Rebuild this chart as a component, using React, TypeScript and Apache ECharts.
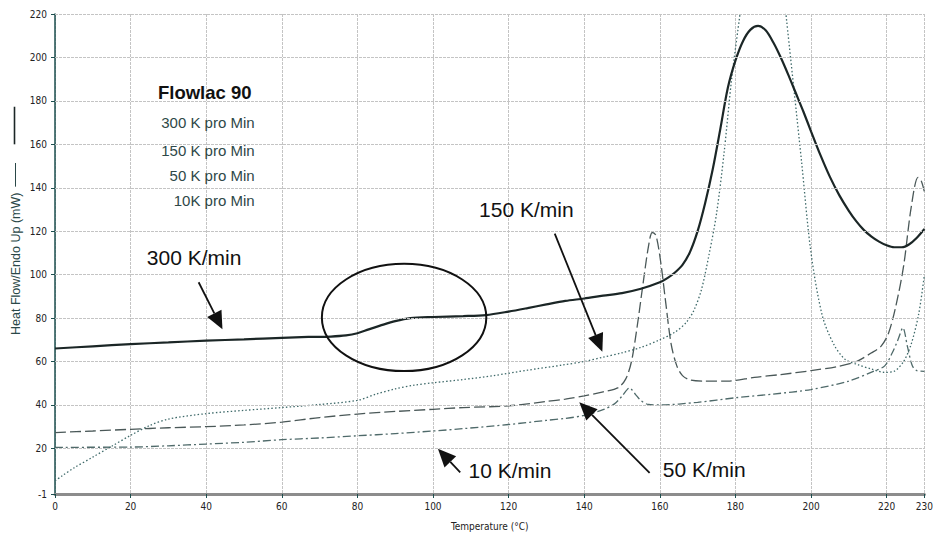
import React, { useEffect, useRef } from "react";
import * as echarts from "echarts";

// ---- axis ticks ----
const X_MIN = 0;
const X_MAX = 230;
const X_INTERVAL = 20;
const Y_MIN = -1;
const Y_MAX = 220;
const Y_LABELS = [-1, 20, 40, 60, 80, 100, 120, 140, 160, 180, 200, 220];
const GRID_Y = [20, 40, 60, 80, 100, 120, 140, 160, 180, 200, 220];

// ---- 300 K/min (solid) ----
const T300 = [0, 10, 20, 30, 40, 50, 60, 67, 73, 77, 80, 83, 86, 90, 94, 100, 108, 114, 120, 125, 130, 135, 140, 145, 150, 155, 160, 162, 164, 166, 168, 170, 172, 174, 176, 178, 180, 182, 184, 186, 188, 190, 192, 194, 196, 198, 200, 202.5, 205, 207.5, 210, 212, 214, 216, 218, 220, 222, 224, 226, 228, 230];
const V300 = [66, 67, 68, 68.8, 69.6, 70.2, 70.9, 71.3, 71.5, 72, 73, 74.8, 76.5, 78.6, 80, 80.5, 80.9, 81.4, 83, 84.6, 86.3, 87.9, 89, 90.3, 91.5, 93.5, 96.5, 98.4, 101, 104.5, 110.5, 120, 133, 148.5, 167, 186, 198.5, 207.5, 212.8, 214.5, 212.5, 207, 200, 192, 183.5, 175, 166, 155, 145, 136.5, 129.4, 124.5, 120.5, 117.5, 115.2, 113.5, 112.6, 112.6, 114, 117, 121];

// ---- 150 K/min (dotted) ----
const T150 = [0, 2, 5, 10, 15, 20, 25, 30, 40, 50, 60, 70, 80, 85, 90, 95, 100, 108, 116, 125, 134, 140, 145, 150, 155, 160, 164, 167, 169, 171, 173, 175, 177, 179, 181.3, 187, 193.3, 195.5, 197.5, 200, 203, 206, 209, 212.5, 216, 219.5, 222, 224.5, 226.5, 228.5, 230];
const V150 = [5, 7.5, 11, 16, 21, 26, 30.5, 33.5, 36, 37.5, 38.8, 40.2, 42.1, 45, 47.4, 49.1, 50.2, 51.7, 53.5, 56, 58.3, 60, 62, 64, 66.5, 70, 73.5, 78, 83.5, 93, 109, 128, 156, 190, 221, null, 221, 185, 152, 110, 81, 68, 61, 58.5, 56.5, 55, 55.5, 60, 68, 82, 100];

// ---- 50 K/min (long dashes) ----
const T50 = [0, 10, 20, 30, 40, 50, 60, 70, 80, 90, 100, 108, 120, 130, 135, 140, 145, 149, 151, 152.5, 154, 155.5, 157, 158, 159, 160.3, 161.5, 163, 164.5, 166, 168, 172, 178, 185, 192, 200, 207, 212, 216, 218.5, 220.5, 222.5, 224.5, 226.5, 228.3, 229.2, 230];
const V50 = [27.3, 28, 28.8, 29.5, 30, 30.8, 32.1, 34.2, 35.8, 37, 38, 38.8, 39.6, 41.6, 42.7, 44.2, 46, 48, 52, 60, 76, 95, 113, 119.4, 118, 105, 88, 68, 58, 53.5, 51.5, 51, 51, 52.7, 54, 55.8, 57.7, 60, 64, 67, 73, 86, 104, 131, 144.8, 143, 138];

// ---- 10 K/min (dash-dot) ----
const T10 = [0, 20, 30, 40, 50, 60, 70, 80, 90, 100, 108, 120, 130, 135, 140, 145, 148, 150, 152, 153.5, 155, 157, 160, 170, 180, 190, 200, 210, 216.5, 219.5, 221.5, 223, 224.3, 225.5, 226.8, 228, 230];
const V10 = [20.5, 20.6, 21.2, 22, 22.8, 24, 24.8, 25.8, 26.8, 28, 29.1, 31, 32.9, 33.8, 35.2, 37.8, 40.5, 44, 47.8, 45, 42, 40.2, 40, 41.2, 43.3, 45, 47.1, 51, 55.5, 58, 64, 70, 75.5, 67, 58, 55.8, 55.5];

// ---- texts ----
const X_NAME = "Temperature (°C)";
const Y_NAME = "Heat Flow/Endo Up (mW)";
const LEGEND_TITLE = "Flowlac 90";
const LEGEND_LINES = ["300 K pro Min", "150 K pro Min", "50 K pro Min", "10K pro Min"];
const LEGEND_Y = [170.2, 157.3, 145.8, 134];
const LEGEND_TITLE_Y = 183.8;
const LEGEND_RIGHT_X = 52.8;

// annotation anchors in data coordinates
const NOTE_TEXTS = ["300 K/min", "150 K/min", "10 K/min", "50 K/min"];
const NOTE_POS = [
  [24.3, 108],
  [112.2, 130],
  [109.4, 9.8],
  [160.8, 10.2],
];
const ARROW_FROM = [
  [38, 96.5],
  [132.2, 118.9],
  [107.2, 9],
  [157.3, 8.7],
];
const ARROW_TO = [
  [44.3, 74.8],
  [144.8, 64.5],
  [101.3, 19.8],
  [138.7, 41.3],
];
const ELLIPSE_C = [92.35, 80.3];
const ELLIPSE_R = [21.75, 24.7];
const YNAME_CENTER = 105;
const YNAME_DASH = [140.5, 151.4];
const YNAME_LINE = [160, 177.3];

const pairs = (xs: number[], ys: (number | null)[]) => xs.map((x, i) => [x, ys[i]]);

const TICK_FONT = "'Liberation Sans Narrow', 'Arial Narrow', 'DejaVu Sans Condensed', Arial, sans-serif";
const FONT = "'Liberation Sans', Arial, Helvetica, sans-serif";

export default function App() {
  const ref = useRef<HTMLDivElement>(null);

  useEffect(() => {
    document.body.style.margin = "0";
    const chart = echarts.init(ref.current!, null, { renderer: "svg" });
    const gridStyle = { color: "#c4c4c4", type: [3, 1] as any, width: 1 };

    const lineBase = {
      type: "line",
      showSymbol: false,
      symbol: "none",
      smooth: 0.3,
      connectNulls: false,
      clip: true,
      silent: true,
      z: 3,
    };

    chart.setOption({
      animation: false,
      backgroundColor: "#ffffff",
      grid: { left: 55, right: 1.8, top: 14, bottom: 35.8, containLabel: false },
      xAxis: {
        type: "value",
        min: X_MIN,
        max: X_MAX,
        interval: X_INTERVAL,
        name: X_NAME,
        nameLocation: "middle",
        nameGap: 27,
        nameTextStyle: { fontSize: 10, color: "#222", fontFamily: TICK_FONT },
        axisLine: { show: true, onZero: false, lineStyle: { color: "#8c8c8c", width: 3 } },
        axisTick: { show: true, length: 4, lineStyle: { color: "#1d4f4f", width: 1 } },
        axisLabel: { fontSize: 10, color: "#222", margin: 7, fontFamily: TICK_FONT },
        splitLine: { show: true, lineStyle: gridStyle },
      },
      yAxis: {
        type: "value",
        min: Y_MIN,
        max: Y_MAX,
        axisLine: { show: true, onZero: false, lineStyle: { color: "#1d4f4f", width: 1.5 } },
        axisTick: { show: true, length: 4, customValues: Y_LABELS, lineStyle: { color: "#1d4f4f" } },
        axisLabel: { fontSize: 10, color: "#222", margin: 8, customValues: Y_LABELS, fontFamily: TICK_FONT },
        splitLine: { show: false },
      },
      series: [
        {
          type: "line",
          name: "grid",
          data: [],
          silent: true,
          z: 1,
          markLine: {
            silent: true,
            symbol: ["none", "none"],
            label: { show: false },
            lineStyle: gridStyle,
            data: GRID_Y.map((v) => ({ yAxis: v })),
          },
        },
        {
          ...lineBase,
          name: "10 K pro Min",
          data: pairs(T10, V10),
          lineStyle: { color: "#4f6a6a", width: 1.3, type: [8, 3, 2, 3] },
        },
        {
          ...lineBase,
          name: "50 K pro Min",
          data: pairs(T50, V50),
          lineStyle: { color: "#4a5858", width: 1.3, type: [11, 4] },
        },
        {
          ...lineBase,
          name: "150 K pro Min",
          data: pairs(T150, V150),
          lineStyle: { color: "#3f6a6a", width: 1.3, type: [1.5, 2.2] },
        },
        {
          ...lineBase,
          name: "300 K pro Min",
          data: pairs(T300, V300),
          lineStyle: { color: "#1b2626", width: 2.2, type: "solid" },
          z: 4,
        },
      ],
    });

    const P = (x: number, y: number) => chart.convertToPixel({ gridIndex: 0 }, [x, y]) as number[];
    const graphics: any[] = [];

    // legend block
    const lt = P(LEGEND_RIGHT_X - 0.8, LEGEND_TITLE_Y);
    graphics.push({
      type: "text",
      x: lt[0],
      y: lt[1],
      style: { text: LEGEND_TITLE, font: `bold 18.5px ${FONT}`, fill: "#111", align: "right", verticalAlign: "middle" },
      z: 10,
    });
    LEGEND_LINES.forEach((t, i) => {
      const p = P(LEGEND_RIGHT_X, LEGEND_Y[i]);
      graphics.push({
        type: "text",
        x: p[0],
        y: p[1],
        style: { text: t, font: `15px ${FONT}`, fill: "#2e4848", align: "right", verticalAlign: "middle" },
        z: 10,
      });
    });

    // annotation texts
    NOTE_TEXTS.forEach((t, i) => {
      const p = P(NOTE_POS[i][0], NOTE_POS[i][1]);
      graphics.push({
        type: "text",
        x: p[0],
        y: p[1],
        style: { text: t, font: `21px ${FONT}`, fill: "#111", align: "left", verticalAlign: "middle" },
        z: 10,
      });
    });

    // arrows
    ARROW_FROM.forEach((f, i) => {
      const a = P(f[0], f[1]);
      const b = P(ARROW_TO[i][0], ARROW_TO[i][1]);
      const dx = b[0] - a[0];
      const dy = b[1] - a[1];
      const len = Math.sqrt(dx * dx + dy * dy);
      const ux = dx / len;
      const uy = dy / len;
      const hl = 18;
      const hw = 8;
      const bx = b[0] - ux * hl;
      const by = b[1] - uy * hl;
      graphics.push({
        type: "line",
        shape: { x1: a[0], y1: a[1], x2: bx, y2: by },
        style: { stroke: "#111", lineWidth: 1.8 },
        z: 10,
      });
      graphics.push({
        type: "polygon",
        shape: {
          points: [
            [b[0], b[1]],
            [bx - uy * hw, by + ux * hw],
            [bx + uy * hw, by - ux * hw],
          ],
        },
        style: { fill: "#111" },
        z: 10,
      });
    });

    // ellipse
    const c = P(ELLIPSE_C[0], ELLIPSE_C[1]);
    const ex = P(ELLIPSE_C[0] + ELLIPSE_R[0], ELLIPSE_C[1]);
    const ey = P(ELLIPSE_C[0], ELLIPSE_C[1] + ELLIPSE_R[1]);
    graphics.push({
      type: "ellipse",
      shape: { cx: c[0], cy: c[1], rx: Math.abs(ex[0] - c[0]), ry: Math.abs(c[1] - ey[1]) },
      style: { fill: "none", stroke: "#111", lineWidth: 2 },
      z: 10,
    });

    // y-axis name with legend line samples
    const yn = P(0, YNAME_CENTER);
    graphics.push({
      type: "text",
      x: 15.5,
      y: yn[1],
      rotation: Math.PI / 2,
      style: { text: Y_NAME, font: `12.5px ${FONT}`, fill: "#2a4848", align: "center", verticalAlign: "middle" },
      z: 10,
    });
    const d1 = P(0, YNAME_DASH[0]);
    const d2 = P(0, YNAME_DASH[1]);
    graphics.push({
      type: "line",
      shape: { x1: 15.5, y1: d1[1], x2: 15.5, y2: d2[1] },
      style: { stroke: "#2a4848", lineWidth: 1 },
      z: 10,
    });
    const l1 = P(0, YNAME_LINE[0]);
    const l2 = P(0, YNAME_LINE[1]);
    graphics.push({
      type: "line",
      shape: { x1: 14.5, y1: l1[1], x2: 14.5, y2: l2[1] },
      style: { stroke: "#1b2626", lineWidth: 1.6 },
      z: 10,
    });

    chart.setOption({ graphic: graphics });

    return () => chart.dispose();
  }, []);

  return <div ref={ref} style={{ width: 936, height: 536 }} />;
}
